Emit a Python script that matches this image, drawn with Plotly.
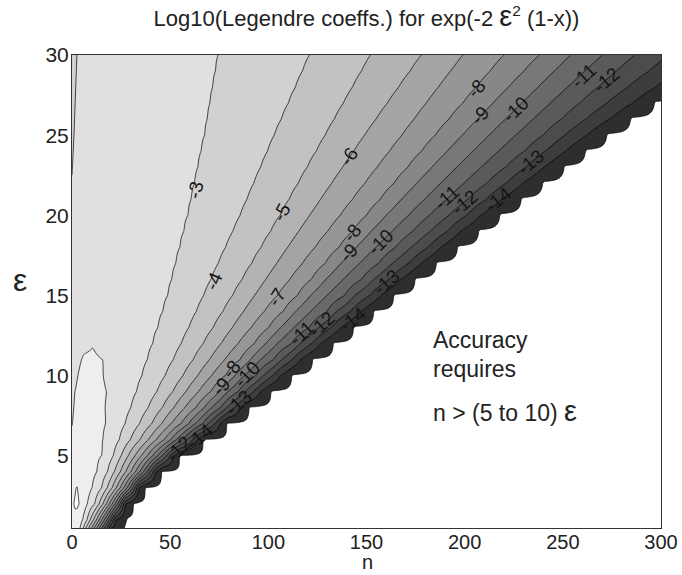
import numpy as np
import plotly.graph_objects as go

# ---- data ----
eps_rows = [0.5, 1.5, 2.5, 3.5, 5, 7, 9, 11, 12.5, 15, 20, 25, 30]

# left "hill" part of each read row: n positions and log10 values
hill_n = [[0], [0, 2.2, 3.8], [0, 2.2, 3.8], [0, 2.5], [0, 5], [0, 2, 7],
          [0, 1.5, 5, 9], [0, 3, 6, 10], [0, 5, 11], [0, 4, 13], [0, 4, 17],
          [0, 1, 4, 21], [0, 2.5, 6, 25]]
hill_z = [[-1.3], [-1.1, -0.85, -1.0], [-1.12, -0.85, -1.0], [-1.4, -1.08],
          [-1.7, -1.5], [-2.02, -1.8, -1.62], [-2.2, -2.0, -1.8, -1.78],
          [-2.4, -2.08, -1.95, -1.93], [-2.5, -2.2, -2.07], [-2.65, -2.35, -2.2],
          [-2.9, -2.55, -2.35], [-3.1, -3.0, -2.7, -2.45], [-3.26, -3.0, -2.8, -2.55]]

# n where each level is crossed on the falling side (one value per read row)
lev_m2 = [4.2, 6.5, 9, 11.5, 15, 17, 17.5, 15.5, None, None, None, None, None]
lev_m3 = [5.8, 9.5, 13.5, 16.5, 21, 27, 32.8, 38.4, 42.5, 48.8, 59, 67.5, 74.4]
lev_m4 = [7, 11.5, 16, 19.8, 25, 34.3, 43.2, 51.6, 57.6, 67, 85.6, 103, 121]
lev_m5 = [8.5, 13.3, 18.2, 22.6, 28.6, 40.6, 51.3, 61.7, 69.4, 81.8, 106, 129, 152]
lev_m6 = [10, 14.9, 20.1, 25, 32, 45.6, 58, 70, 78.8, 93, 121, 149, 178]
lev_m7 = [11.3, 16.3, 21.8, 27.3, 35.3, 50.5, 64.3, 77.8, 87.9, 104.5, 136.6, 168, 199]
lev_m8 = [12.6, 17.7, 23.4, 29.3, 38.3, 55.4, 70.6, 85.5, 96.5, 114.8, 150, 185, 220]
lev_m9 = [13.9, 19, 24.8, 31.2, 41, 59.4, 75.2, 90.9, 102.5, 121.5, 160, 198.8, 238]
lev_m10 = [15.2, 20.2, 26.1, 32.9, 43.5, 62.7, 79.4, 96, 108.8, 129.8, 171.4, 212.5, 254]
lev_m11 = [16.5, 21.3, 27.3, 34.4, 46, 66.5, 84.6, 102.6, 116.3, 138.8, 182, 226, 270]
lev_m12 = [17.7, 22.3, 28.4, 35.7, 48, 69.3, 88.2, 106.9, 120.9, 144, 192, 240, 286.5]
lev_m13 = [18.9, 23.3, 29.4, 36.9, 50, 72.7, 92.3, 112, 126.9, 151.5, 201, 251, 304.5]
lev_m14 = [20.2, 24.3, 30.4, 38.1, 52, 75.5, 96, 116.4, 131.9, 157.5, 208, 262, 321]
lev_m15 = [26.6, 29, 34, 41, 55, 79, 101.5, 122.6, 138.4, 164, 218, 272.5, 333]
noise_floor = -15.12         # value beyond the last (white) edge

# rows of the original computation (one per unit of eps)
eps_computed = [0.5] + list(range(1, 31))

# contour labels: text, n, eps, angle
label_text = ["-3", "-4", "-5", "-6", "-7",
              "-8", "-8", "-8", "-9", "-9", "-9", "-10", "-10", "-10",
              "-11", "-11", "-11", "-12", "-12", "-12", "-12",
              "-13", "-13", "-13", "-14", "-14", "-14"]
label_n = [63, 72, 106.6, 141, 104,
           143, 206, 81, 141, 208, 76, 157, 226, 89,
           117, 191, 261, 127, 200, 272, 54,
           160, 233.5, 85, 143, 217, 65]
label_eps = [21.6, 15.9, 20.2, 23.7, 14.9,
             18.9, 27.9, 10.4, 17.7, 26.2, 9.3, 18.3, 26.6, 10.1,
             12.6, 21.1, 28.7, 13.2, 20.8, 28.4, 5.4,
             15.8, 23.3, 8.3, 13.5, 21, 6.2]
label_angle = [-76, -66, -61, -55, -57,
               -50, -48, -50, -47, -46, -48, -45, -44, -46,
               -43, -42, -42, -41, -40, -40, -45,
               -40, -39, -42, -38, -38, -40]

# ---- build the field on the computed rows ----
falling = [lev_m3, lev_m4, lev_m5, lev_m6, lev_m7, lev_m8, lev_m9,
           lev_m10, lev_m11, lev_m12, lev_m13, lev_m14, lev_m15]
falling_levels = list(range(-3, -16, -1))
n_grid = np.arange(0, 300.25, 0.5)
er = np.array(eps_rows, float)


def hill_row(i):
    kn = list(hill_n[i])
    kz = list(hill_z[i])
    if lev_m2[i] is not None:
        kn.append(lev_m2[i])
        kz.append(-2)
    kn.append(lev_m3[i])
    kz.append(-3)
    return np.array(kn) / lev_m3[i], np.array(kz)


z = []
for e in eps_computed:
    i = min(int(np.searchsorted(er, e, side="right")) - 1, len(er) - 2)
    w = (e - er[i]) / (er[i + 1] - er[i])
    n3 = np.interp(e, er, lev_m3)
    s = n_grid / n3
    si, zi = hill_row(i)
    sj, zj = hill_row(i + 1)
    zh = (1 - w) * np.interp(s, si, zi) + w * np.interp(s, sj, zj)
    fn = [float(np.interp(e, er, lv)) for lv in falling]
    kn = fn + [fn[-1] + 0.8, 5000]
    kz = falling_levels + [noise_floor, noise_floor]
    zf = np.interp(n_grid, kn, kz)
    z.append(np.where(n_grid < n3, zh, zf))
z = np.array(z)

# colours: background (below -15) white, then bands -15..-14 ... above -1
band_gray = [255] + [int(round(46 + 14.8 * k)) for k in range(14)] + [250]
nb = len(band_gray) - 1
colorscale = [[j / nb, f"rgb({g},{g},{g})"] for j, g in enumerate(band_gray)]

fig = go.Figure()
fig.add_trace(go.Contour(
    x=n_grid, y=eps_computed, z=z,
    autocontour=False,
    contours=dict(start=-15, end=-1, size=1, coloring="fill", showlines=True),
    line=dict(color="black", width=0.7, smoothing=1.0),
    colorscale=colorscale, showscale=False, hoverinfo="skip",
))

FONT = "Liberation Sans, Arial, sans-serif"
annotations = []
for t, xn, ye, a in zip(label_text, label_n, label_eps, label_angle):
    annotations.append(dict(x=xn, y=ye, xref="x", yref="y", text=t, showarrow=False,
                            textangle=a, font=dict(family=FONT, size=19, color="#151515")))

annotations += [
    dict(x=183, y=12.2, xref="x", yref="y", xanchor="left", yanchor="middle",
         text="Accuracy", showarrow=False, font=dict(family=FONT, size=23, color="#222")),
    dict(x=183, y=10.4, xref="x", yref="y", xanchor="left", yanchor="middle",
         text="requires", showarrow=False, font=dict(family=FONT, size=23, color="#222")),
    dict(x=183, y=7.8, xref="x", yref="y", xanchor="left", yanchor="middle",
         text="n > (5 to 10) <span style='font-size:29px'>ε</span>", showarrow=False,
         font=dict(family=FONT, size=23, color="#222")),
]
# axis titles placed in pixels, converted to paper coordinates
L, R, T, B = 72, 21, 55, 47
PW, PH = 682 - L - R, 575 - T - B
annotations += [
    dict(x=(20 - L) / PW, y=(575 - 280 - B) / PH, xref="paper", yref="paper",
         xanchor="center", yanchor="middle", text="ε", showarrow=False,
         font=dict(family=FONT, size=32, color="#222")),
    dict(x=(367 - L) / PW, y=(575 - 575 - B) / PH, xref="paper", yref="paper",
         xanchor="center", yanchor="bottom", text="n", showarrow=False,
         font=dict(family=FONT, size=20, color="#222")),
]

fig.update_layout(
    width=682, height=575,
    margin=dict(l=L, r=R, t=T, b=B, autoexpand=False),
    paper_bgcolor="white", plot_bgcolor="white",
    title=dict(text="Log10(Legendre coeffs.) for exp(-2 <span style='font-size:29px'>ε</span><sup>2</sup> (1-x))",
               x=0.5, xanchor="center", xref="paper", yref="container",
               y=1 - 18 / 575, yanchor="middle",
               font=dict(family=FONT, size=22, color="#222")),
    font=dict(family=FONT, size=21, color="#222"),
    annotations=annotations,
    showlegend=False,
)
fig.update_xaxes(range=[0, 300], tickvals=[0, 50, 100, 150, 200, 250, 300],
                 showline=True, linecolor="#333", linewidth=1, mirror=True,
                 ticks="", showgrid=False, zeroline=False, automargin=False,
                 ticklabelstandoff=-4,
                 tickfont=dict(family=FONT, size=20, color="#222"))
fig.update_yaxes(range=[0.5, 30], tickvals=[5, 10, 15, 20, 25, 30],
                 showline=True, linecolor="#333", linewidth=1, mirror=True,
                 ticks="", showgrid=False, zeroline=False, automargin=False,
                 ticklabelstandoff=-2,
                 tickfont=dict(family=FONT, size=21, color="#222"))

fig.write_html("out.html", config={"displayModeBar": False},
               post_script="document.body.style.margin='0px';document.body.style.overflow='hidden';")
